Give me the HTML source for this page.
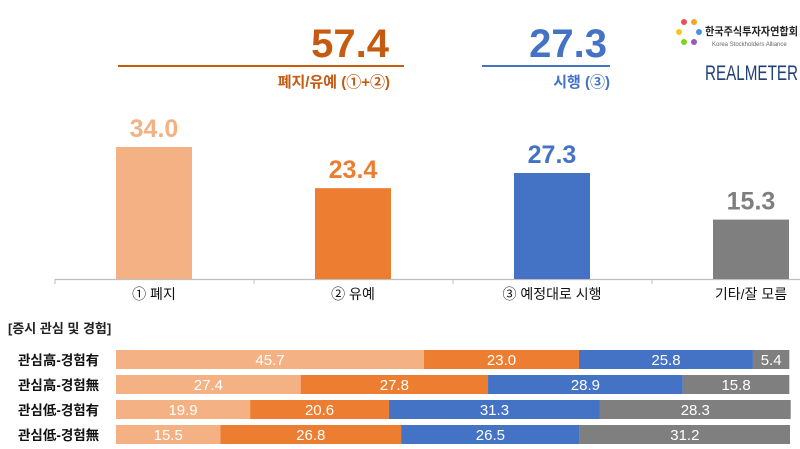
<!DOCTYPE html>
<html><head><meta charset="utf-8"><style>
html,body{margin:0;padding:0;background:#fff;}
svg{display:block;font-family:"Liberation Sans","Noto Sans CJK KR",sans-serif;}
</style></head><body>
<svg id="chart" width="800" height="449" viewBox="0 0 800 449">
  <g>
    <text x="389" y="57" text-anchor="end" font-size="40" font-weight="bold" fill="#C55A11">57.4</text>
    <line x1="118" y1="66" x2="404" y2="66" stroke="#C55A11" stroke-width="2"/>
    <text x="390" y="87" text-anchor="end" font-size="15" font-weight="bold" fill="#C55A11">폐지/유예 (①+②)</text>
    <text x="607" y="57" text-anchor="end" font-size="40" font-weight="bold" fill="#4472C4">27.3</text>
    <line x1="482" y1="66" x2="610" y2="66" stroke="#4472C4" stroke-width="2"/>
    <text x="610" y="87" text-anchor="end" font-size="15" font-weight="bold" fill="#4472C4">시행 (③)</text>
  </g>
  <g>
    <g>
      <circle cx="684" cy="22" r="3" fill="#E8505B"/><circle cx="694" cy="22" r="3" fill="#F5A623"/>
      <circle cx="679" cy="32" r="3" fill="#F5C623"/><circle cx="699" cy="32" r="3" fill="#4A90E2"/>
      <circle cx="684" cy="42" r="3" fill="#7ED321"/><circle cx="694" cy="42" r="3" fill="#9B59B6"/>
    </g>
    <text x="705" y="35" font-size="11" font-weight="bold" fill="#222" textLength="93" lengthAdjust="spacingAndGlyphs">한국주식투자자연합회</text>
    <text x="712" y="46" font-size="6" fill="#666">Korea Stockholders Alliance</text>
    <text x="705" y="80" font-size="21" fill="#1F3F7A" textLength="93" lengthAdjust="spacingAndGlyphs">REALMETER</text>
  </g>
  <g id="bars"></g>
  <text x="8" y="333" font-size="13" font-weight="bold" fill="#222">[증시 관심 및 경험]</text>
  <g id="stacks"></g>
</svg>
<script>
const categories = ['① 폐지', '② 유예', '③ 예정대로 시행', '기타/잘 모름'];
const values = [34.0, 23.4, 27.3, 15.3];
const valueLabels = ['34.0', '23.4', '27.3', '15.3'];
const groups = ['관심高-경험有', '관심高-경험無', '관심低-경험有', '관심低-경험無'];
const sAbolish = [45.7, 27.4, 19.9, 15.5];
const sDefer = [23.0, 27.8, 20.6, 26.8];
const sImplement = [25.8, 28.9, 31.3, 26.5];
const sOther = [5.4, 15.8, 28.3, 31.2];

const colors = ['#F4B183', '#ED7D31', '#4472C4', '#7F7F7F'];
const labelColors = ['#F4B183', '#ED7D31', '#4472C4', '#7F7F7F'];
const NS = 'http://www.w3.org/2000/svg';
function mk(tag, attrs, parent) { const e = document.createElementNS(NS, tag); for (const k in attrs) e.setAttribute(k, attrs[k]); parent.appendChild(e); return e; }

const baseY = 279, unit = 132 / 34, bw = 76;
const xCenter = i => 154 + i * 199;
const yVal = v => baseY - v * unit;
const bars = document.getElementById('bars');
const axis = mk('line', {x1: 55, y1: baseY + 0.5, x2: 800, y2: baseY + 0.5, stroke: '#BFBFBF', 'stroke-width': 1.2}, bars);


[55, 254, 453, 652].forEach(function (tx) {
  const t = mk('line', {x1: tx, y1: baseY, x2: tx, y2: baseY + 5, stroke: '#BFBFBF'}, bars);
  
  
});
categories.forEach(function (c, i) {
  const r = mk('rect', {x: xCenter(i) - bw / 2, y: yVal(values[i]), width: bw, height: values[i] * unit, fill: colors[i]}, bars);
  
  
  const v = mk('text', {x: xCenter(i), y: yVal(values[i]) - 10, 'text-anchor': 'middle', 'font-size': 25, 'font-weight': 'bold', fill: labelColors[i]}, bars);
  v.textContent = valueLabels[i];
  
  
  const l = mk('text', {x: xCenter(i), y: 299, 'text-anchor': 'middle', 'font-size': 14, fill: '#111'}, bars);
  l.textContent = c;
  
  
});

const stacks = document.getElementById('stacks');
const x0 = 116, sc = 674 / 100, rowH = 19;
const rowY = i => 350 + i * 25;
const series = [sAbolish, sDefer, sImplement, sOther];
groups.forEach(function (g, i) {
  const gl = mk('text', {x: 18, y: rowY(i) + 15, 'font-size': 13.5, 'font-weight': 'bold', fill: '#111'}, stacks);
  gl.textContent = g;
  
  
  let acc = 0;
  series.forEach(function (s, k) {
    const v = s[i];
    const r = mk('rect', {x: x0 + acc * sc, y: rowY(i), width: v * sc, height: rowH, fill: colors[k]}, stacks);
    
    
    const t = mk('text', {x: x0 + (acc + v / 2) * sc, y: rowY(i) + 15, 'text-anchor': 'middle', 'font-size': 15, fill: '#fff'}, stacks);
    t.textContent = v.toFixed(1);
    
    
    acc += v;
  });
});
</script>
</body></html>
